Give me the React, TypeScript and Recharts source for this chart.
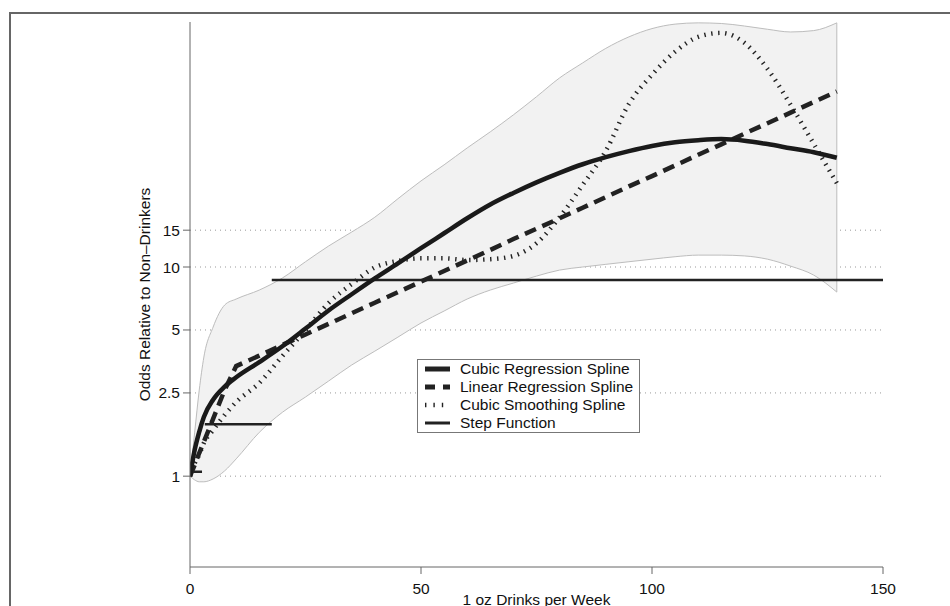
import {
  ComposedChart,
  Area,
  Line,
  XAxis,
  YAxis,
  CartesianGrid,
  Legend,
  ReferenceLine,
} from 'recharts';

const FONT = '"Liberation Sans", Arial, Helvetica, sans-serif';
const FONT_SIZE = 15.5;

const drinks = [
  0, 1, 2, 3, 5, 7.5, 10, 15, 20, 25, 30, 35, 40, 45, 50, 55, 60, 65, 70, 75,
  80, 85, 90, 95, 100, 105, 110, 115, 120, 125, 130, 135, 140,
];

const cubicRegression = [
  1.0, 1.33, 1.63, 1.92, 2.32, 2.68, 2.97, 3.51, 4.18, 5.08, 6.2, 7.41, 8.82,
  10.4, 12.3, 14.5, 17.1, 19.9, 22.6, 25.4, 28.2, 31.0, 33.5, 35.8, 37.9, 39.5,
  40.4, 40.9, 40.2, 38.7, 37.0, 35.4, 33.3,
];

const linearRegression = [
  1.0, 1.13, 1.29, 1.46, 1.88, 2.58, 3.36, 3.77, 4.24, 4.76, 5.35, 6.01, 6.75,
  7.58, 8.52, 9.57, 10.75, 12.07, 13.6, 15.24, 17.1, 19.2, 21.6, 24.3, 27.2,
  30.6, 34.4, 38.6, 43.4, 48.7, 54.7, 61.5, 69.1,
];

const smoothingSpline = [
  1.0, 1.15, 1.27, 1.44, 1.66, 1.96, 2.26, 2.79, 3.75, 4.99, 6.73, 8.29, 9.95,
  10.7, 11.0, 11.0, 10.8, 10.9, 11.3, 13.0, 17.3, 24.7, 35.9, 60.2, 83.0, 107,
  126, 131.7, 118, 88.6, 59.7, 38.8, 25.2,
];

const bandLower = [
  1.0, 0.96, 0.94, 0.94, 0.97, 1.06, 1.21, 1.62, 2.02, 2.39, 2.85, 3.4, 3.96,
  4.62, 5.4, 6.16, 7.03, 7.76, 8.38, 9.05, 9.67, 10.0, 10.3, 10.6, 10.9, 11.2,
  11.4, 11.4, 11.3, 10.9, 10.1, 9.15, 7.59,
];

const bandUpper = [
  1.0, 1.61, 2.58, 3.71, 5.16, 6.58, 7.03, 7.76, 8.86, 10.6, 12.6, 14.7, 17.3,
  21.2, 25.8, 30.8, 37.1, 44.3, 53.4, 65.2, 80.2, 94.6, 111, 126, 138, 145, 147,
  146, 142, 137, 133, 135, 147,
];

// step function: one level per drinking band
const stepStarts = [0, 3.2, 17.7];
const stepEnds = [2.6, 17.7, 150];
const stepLevels = [1.05, 1.77, 8.67];

const oddsTicks = [1, 2.5, 5, 10, 15];
const drinkTicks = [0, 50, 100, 150];

const legendNames = [
  'Cubic Regression Spline',
  'Linear Regression Spline',
  'Cubic Smoothing Spline',
  'Step Function',
];

const rows = drinks.map((x, i) => ({
  x,
  cubic: cubicRegression[i],
  linear: linearRegression[i],
  smooth: smoothingSpline[i],
  lo: bandLower[i],
  hi: bandUpper[i],
}));

const stepRows: { x: number; step: number | null }[] = [];
stepLevels.forEach((level, i) => {
  if (i > 0) stepRows.push({ x: stepStarts[i], step: null });
  stepRows.push({ x: stepStarts[i], step: level });
  stepRows.push({ x: stepEnds[i], step: level });
});

const last = drinks.length - 1;

const legendStyles = [
  { width: 5, dash: undefined },
  { width: 5, dash: '10 8' },
  { width: 4.5, dash: '1.4 7' },
  { width: 3, dash: undefined },
];

function SplineLegend() {
  return (
    <div
      style={{
        width: 223,
        boxSizing: 'border-box',
        border: '1px solid #777',
        background: '#fff',
        paddingLeft: 7,
        fontFamily: FONT,
        fontSize: FONT_SIZE,
        color: '#111',
        textAlign: 'left',
      }}
    >
      {legendNames.map((name, i) => (
        <div key={name} style={{ display: 'flex', alignItems: 'center', height: 18 }}>
          <svg width={25} height={18} style={{ marginRight: 10, flexShrink: 0 }}>
            <line
              x1={0}
              x2={25}
              y1={9}
              y2={9}
              stroke="#222"
              strokeWidth={legendStyles[i].width}
              strokeDasharray={legendStyles[i].dash}
            />
          </svg>
          <span style={{ whiteSpace: 'nowrap' }}>{name}</span>
        </div>
      ))}
    </div>
  );
}

export default function App() {
  return (
    <div style={{ position: 'relative', width: 950, height: 606, overflow: 'hidden', background: '#fff' }}>
      <style>{'body{margin:0}'}</style>
      <div
        style={{
          position: 'absolute',
          left: 9,
          top: 12,
          width: 980,
          height: 640,
          border: '2px solid #666',
        }}
      />
      <ComposedChart
        width={950}
        height={606}
        data={rows}
        margin={{ top: 22, right: 67, bottom: 0, left: 0 }}
        style={{ fontFamily: FONT }}
      >
        <CartesianGrid
          vertical={false}
          horizontalValues={oddsTicks}
          stroke="#999"
          strokeDasharray="1 4"
        />
        <XAxis
          type="number"
          dataKey="x"
          domain={[0, 150]}
          ticks={drinkTicks}
          allowDataOverflow
          height={39}
          tickSize={7}
          tickMargin={9}
          stroke="#666"
          tick={{ fill: '#111', fontSize: FONT_SIZE }}
          label={{
            value: '1 oz Drinks per Week',
            position: 'insideBottom',
            offset: 1,
            fill: '#111',
            fontSize: FONT_SIZE,
          }}
        />
        <YAxis
          type="number"
          scale="log"
          domain={[Math.exp(-1), Math.exp(5)]}
          ticks={oddsTicks}
          allowDataOverflow
          width={190}
          tickSize={7}
          tickMargin={3}
          stroke="#666"
          tick={{ fill: '#111', fontSize: FONT_SIZE }}
          label={{
            value: 'Odds Relative to Non\u2013Drinkers',
            angle: -90,
            position: 'insideLeft',
            offset: 144,
            fill: '#111',
            fontSize: FONT_SIZE,
            style: { textAnchor: 'middle' },
          }}
        />

        {/* pointwise confidence band */}
        <Area
          type="monotone"
          dataKey={(d: { lo: number; hi: number }) => [d.lo, d.hi]}
          fill="#f2f2f2"
          fillOpacity={1}
          stroke="#bdbdbd"
          strokeWidth={1}
          dot={false}
          activeDot={false}
          isAnimationActive={false}
        />
        <ReferenceLine
          segment={[
            { x: drinks[last], y: bandLower[last] },
            { x: drinks[last], y: bandUpper[last] },
          ]}
          stroke="#bdbdbd"
          strokeWidth={1}
        />

        <Line
          data={stepRows}
          dataKey="step"
          type="linear"
          stroke="#222"
          strokeWidth={2.6}
          dot={false}
          activeDot={false}
          connectNulls={false}
          isAnimationActive={false}
        />
        <Line
          dataKey="smooth"
          type="monotone"
          stroke="#222"
          strokeWidth={4.5}
          strokeDasharray="1.4 5.6"
          dot={false}
          activeDot={false}
          isAnimationActive={false}
        />
        <Line
          dataKey="linear"
          type="linear"
          stroke="#222"
          strokeWidth={4.5}
          strokeDasharray="12 7"
          dot={false}
          activeDot={false}
          isAnimationActive={false}
        />
        <Line
          dataKey="cubic"
          type="monotone"
          stroke="#1a1a1a"
          strokeWidth={4.5}
          dot={false}
          activeDot={false}
          isAnimationActive={false}
        />

        <Legend
          layout="horizontal"
          verticalAlign="middle"
          align="center"
          content={SplineLegend}
          wrapperStyle={{ left: 417, top: 359, width: 'auto' }}
        />
      </ComposedChart>
    </div>
  );
}
